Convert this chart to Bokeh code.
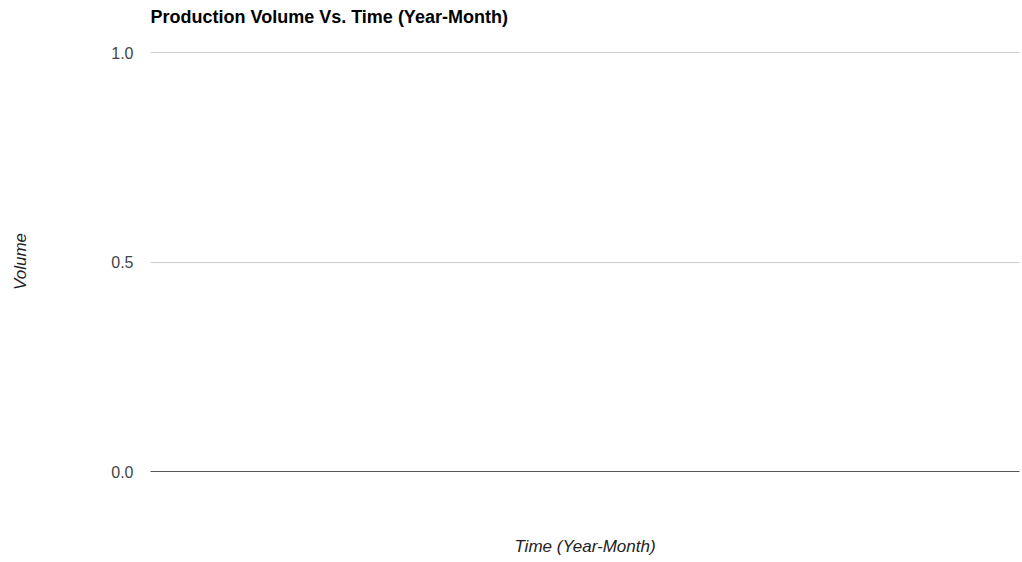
from bokeh.plotting import figure
from bokeh.models import Range1d, FixedTicker, CustomJSTickFormatter, Title
from bokeh.embed import file_html
from bokeh.resources import INLINE

# Data (the reference chart contains no data points)
months = []          # Year-Month categories
volumes = []         # production volume values
y_ticks = [0.0, 0.5, 1.0]

TITLE = "Production Volume Vs. Time (Year-Month)"
X_LABEL = "Time (Year-Month)"
Y_LABEL = "Volume"
FONT = "Liberation Sans"

p = figure(frame_width=869, frame_height=420, output_backend="svg", toolbar_location=None,
           x_range=Range1d(0, 1), y_range=Range1d(0, 1.0024),
           min_border_left=150, min_border_right=3, min_border_top=0,
           min_border_bottom=0, title=TITLE)
p.outline_line_color = None
p.background_fill_color = "white"
p.border_fill_color = "white"

p.line(x=list(range(len(months))), y=volumes, line_color="#3366cc", line_width=2)

# spacer between the title and the plot area
p.add_layout(Title(text=" ", standoff=13, text_font_size="1px"), "above")

# Title
p.title.text_font = FONT
p.title.text_font_size = "18px"
p.title.text_font_style = "bold"
p.title.text_color = "#000000"
p.title.align = "left"
p.title.vertical_align = "top"
p.title.standoff = 13

# Y axis
p.yaxis.ticker = FixedTicker(ticks=y_ticks)
p.yaxis.formatter = CustomJSTickFormatter(code="return tick.toFixed(1);")
p.yaxis.axis_line_color = None
p.yaxis.major_tick_line_color = None
p.yaxis.minor_tick_line_color = None
p.yaxis.major_label_standoff = 11
p.yaxis.major_label_text_font = FONT
p.yaxis.major_label_text_font_size = "16px"
p.yaxis.major_label_text_color = "#444444"
p.yaxis.axis_label = Y_LABEL
p.yaxis.axis_label_text_font = FONT
p.yaxis.axis_label_text_font_size = "17px"
p.yaxis.axis_label_text_font_style = "italic"
p.yaxis.axis_label_text_color = "#222222"
p.yaxis.axis_label_standoff = 78

# X axis (baseline + title)
p.xaxis.ticker = FixedTicker(ticks=[])
p.xaxis.axis_line_color = "#555555"
p.xaxis.axis_line_width = 1
p.xaxis.major_tick_line_color = None
p.xaxis.minor_tick_line_color = None
p.xaxis.axis_label = X_LABEL
p.xaxis.axis_label_text_font = FONT
p.xaxis.axis_label_text_font_size = "17px"
p.xaxis.axis_label_text_font_style = "italic"
p.xaxis.axis_label_text_color = "#222222"
p.xaxis.axis_label_text_line_height = 1.0
p.xaxis.axis_label_standoff = 65

# Grid
p.xgrid.grid_line_color = None
p.ygrid.ticker = FixedTicker(ticks=[0.5, 1.0])
p.ygrid.grid_line_color = "#cccccc"
p.ygrid.grid_line_width = 1

open("out.html", "w").write(file_html(p, INLINE))
